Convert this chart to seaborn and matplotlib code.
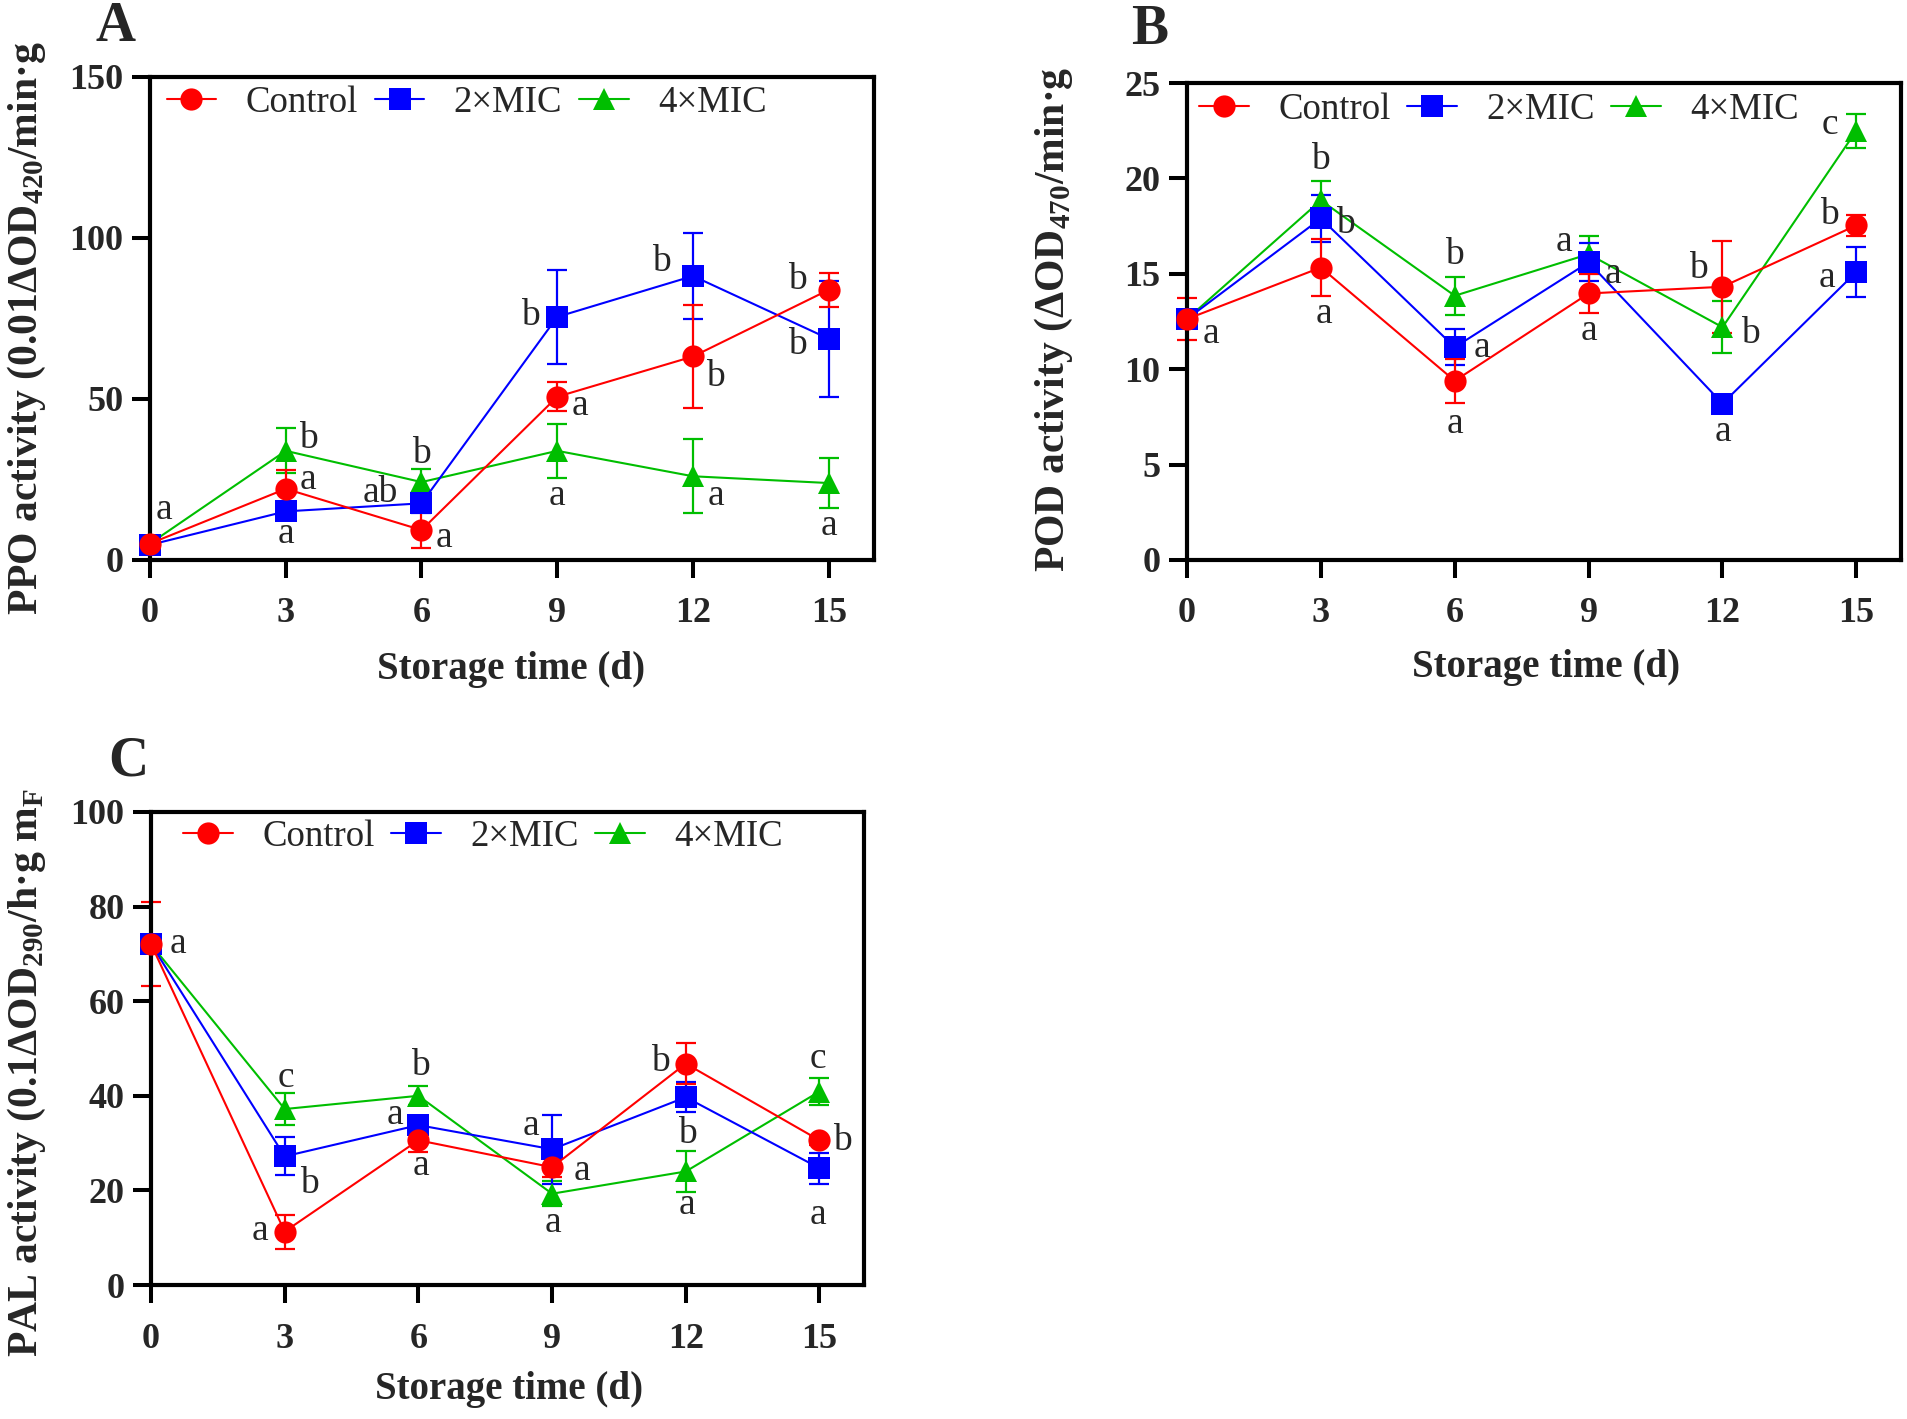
import numpy as np
import pandas as pd
import matplotlib
matplotlib.use("Agg")
import matplotlib.pyplot as plt
import seaborn as sns

# ---- data ----
days = [0, 3, 6, 9, 12, 15]
groups = ["Control", "2×MIC", "4×MIC"]

ppo_control = [5.1, 22.1, 9.3, 50.7, 63.2, 83.9]
ppo_control_sd = [1.0, 6.0, 5.6, 4.5, 16.0, 5.3]
ppo_2mic = [4.7, 15.1, 17.6, 75.5, 88.2, 68.7]
ppo_2mic_sd = [1.0, 2.0, 3.0, 14.7, 13.4, 18.0]
ppo_4mic = [5.1, 33.9, 24.2, 33.9, 26.0, 23.9]
ppo_4mic_sd = [1.0, 7.0, 4.0, 8.4, 11.5, 7.8]

pod_control = [12.63, 15.33, 9.39, 13.97, 14.32, 17.54]
pod_control_sd = [1.1, 1.5, 1.15, 1.0, 2.4, 0.55]
pod_2mic = [12.63, 17.9, 11.15, 15.6, 8.2, 15.1]
pod_2mic_sd = [0.3, 1.25, 0.95, 1.0, 0.3, 1.3]
pod_4mic = [12.63, 18.85, 13.85, 16.03, 12.2, 22.5]
pod_4mic_sd = [0.3, 1.0, 1.0, 0.95, 1.35, 0.9]

pal_control = [72.1, 11.3, 30.6, 24.9, 46.8, 30.6]
pal_control_sd = [8.8, 3.6, 2.5, 2.0, 4.3, 1.0]
pal_2mic = [72.1, 27.2, 33.8, 28.7, 39.7, 24.7]
pal_2mic_sd = [2.0, 4.0, 1.5, 7.3, 3.2, 3.3]
pal_4mic = [72.0, 37.2, 40.0, 19.3, 24.0, 40.9]
pal_4mic_sd = [1.0, 3.3, 2.0, 2.7, 4.4, 2.9]

# significance letters (day position, y position, letter)
ppo_letters = [(0.3, 15.5, "a"),
               (3.5, 37.8, "b"), (3.5, 25, "a"), (3.0, 8, "a"),
               (6.0, 33, "b"), (5.1, 21, "ab"), (6.5, 7, "a"),
               (8.4, 76, "b"), (9.5, 48, "a"), (9.0, 20, "a"),
               (11.3, 92.6, "b"), (12.5, 57, "b"), (12.5, 20, "a"),
               (14.3, 87, "b"), (14.3, 67, "b"), (15.0, 10.7, "a")]
pod_letters = [(0.54, 11.85, "a"),
               (3.0, 21.0, "b"), (3.56, 17.6, "b"), (3.06, 12.9, "a"),
               (6.0, 16.0, "b"), (6.6, 11.15, "a"), (6.0, 7.16, "a"),
               (8.45, 16.7, "a"), (9.55, 15.0, "a"), (9.0, 12.0, "a"),
               (11.46, 15.26, "b"), (12.63, 11.85, "b"), (12.0, 6.7, "a"),
               (14.4, 22.8, "c"), (14.4, 18.1, "b"), (14.35, 14.8, "a")]
pal_letters = [(0.6, 72.1, "a"),
               (3.03, 43.9, "c"), (3.55, 21.4, "b"), (2.45, 11.5, "a"),
               (6.04, 46.3, "b"), (5.48, 36, "a"), (6.06, 25.2, "a"),
               (8.52, 33.6, "a"), (9.68, 24.2, "a"), (9.03, 13.1, "a"),
               (11.42, 47.2, "b"), (12.03, 31.9, "b"), (12.03, 16.9, "a"),
               (14.97, 47.9, "c"), (15.52, 30.6, "b"), (14.97, 14.8, "a")]

colors = {"Control": "#FF0000", "2×MIC": "#0000FF", "4×MIC": "#00BE00"}
markers = {"Control": "o", "2×MIC": "s", "4×MIC": "^"}


def long_table(vals, sds):
    rows = []
    for g, v, s in zip(groups, vals, sds):
        for d, y, e in zip(days, v, s):
            rows.append({"day": d, "value": y, "sd": e, "group": g})
    return pd.DataFrame(rows)


sns.set_theme(style="ticks")
plt.rcParams["font.family"] = ["Liberation Serif", "DejaVu Serif"]
plt.rcParams["mathtext.fontset"] = "custom"
plt.rcParams["mathtext.rm"] = "Liberation Serif"
plt.rcParams["mathtext.bf"] = "Liberation Serif:bold"

fig = plt.figure(figsize=(19.08, 14.19), dpi=100)
W, H = 1908, 1419


def px_axes(l, t, r, b):
    return fig.add_axes([l / W, 1 - b / H, (r - l) / W, (b - t) / H])


def draw_panel(ax, df, ymax, ystep, letters, leg_xy):
    order = groups[::-1]  # red drawn last, on top
    for g in order:
        sub = df[df["group"] == g]
        ax.errorbar(sub["day"], sub["value"], yerr=sub["sd"], fmt="none",
                    ecolor=colors[g], elinewidth=1.6, capsize=7, capthick=1.6,
                    clip_on=False, zorder=2)
    sns.lineplot(data=df, x="day", y="value", hue="group", style="group",
                 hue_order=order, style_order=order, palette=colors,
                 markers=markers, dashes=False, markersize=16,
                 markeredgewidth=0, linewidth=1.5, clip_on=False,
                 ax=ax, zorder=3)
    ax.set_xlim(0, 16)
    ax.set_ylim(0, ymax)
    ax.set_xticks(days)
    ax.set_yticks(np.arange(0, ymax + 1, ystep))
    ax.set_xlabel("")
    ax.set_ylabel("")
    for sp in ax.spines.values():
        sp.set_linewidth(3)
        sp.set_color("black")
        sp.set_visible(True)
    ax.tick_params(axis="both", length=13, width=2.9, color="black",
                   labelsize=26)
    ax.tick_params(axis="x", pad=14)
    ax.tick_params(axis="y", pad=6)
    for lab in ax.get_xticklabels() + ax.get_yticklabels():
        lab.set_fontweight("bold")
    for x, y, s in letters:
        ax.text(x, y, s, ha="center", va="center", fontsize=27)
    handles, labels = ax.get_legend_handles_labels()
    handles, labels = handles[::-1], labels[::-1]
    ax.legend(handles, labels, loc="center left", bbox_to_anchor=leg_xy,
              ncol=3, frameon=False, fontsize=26.5, borderpad=0,
              borderaxespad=0, handlelength=1.35, handletextpad=0.8,
              columnspacing=0.45)


axA = px_axes(150, 77, 874, 560)
draw_panel(axA, long_table([ppo_control, ppo_2mic, ppo_4mic],
                           [ppo_control_sd, ppo_2mic_sd, ppo_4mic_sd]),
           150, 50, ppo_letters, (0.023, 0.946))

axB = px_axes(1187, 83, 1901, 560)
draw_panel(axB, long_table([pod_control, pod_2mic, pod_4mic],
                           [pod_control_sd, pod_2mic_sd, pod_4mic_sd]),
           25, 5, pod_letters, (0.017, 0.944))

axC = px_axes(151, 812, 864, 1285)
draw_panel(axC, long_table([pal_control, pal_2mic, pal_4mic],
                           [pal_control_sd, pal_2mic_sd, pal_4mic_sd]),
           100, 20, pal_letters, (0.045, 0.948))

# axis titles
xlab_kw = dict(fontsize=28, fontweight="bold")
ylab_kw = dict(fontsize=30, fontweight="bold")
fig.text(511 / W, 1 - 669 / H, "Storage time (d)", ha="center", va="center", **xlab_kw)
fig.text(1546 / W, 1 - 667 / H, "Storage time (d)", ha="center", va="center", **xlab_kw)
fig.text(509 / W, 1 - 1390 / H, "Storage time (d)", ha="center", va="center", **xlab_kw)

fig.text(27 / W, 1 - 615 / H, r"PPO activity (0.01ΔOD$_{\mathbf{420}}$/min·g",
         rotation=90, ha="center", va="bottom", **ylab_kw)
fig.text(1054 / W, 1 - 572 / H, r"POD activity (ΔOD$_{\mathbf{470}}$/min·g",
         rotation=90, ha="center", va="bottom", **ylab_kw)
fig.text(27 / W, 1 - 1357 / H, r"PAL activity (0.1ΔOD$_{\mathbf{290}}$/h·g m$_{\mathbf{F}}$",
         rotation=90, ha="center", va="bottom", **ylab_kw)

# panel letters
fig.text(116 / W, 1 - 27 / H, "A", ha="center", va="center", fontsize=40, fontweight="bold")
fig.text(1150 / W, 1 - 30 / H, "B", ha="center", va="center", fontsize=40, fontweight="bold")
fig.text(128 / W, 1 - 761 / H, "C", ha="center", va="center", fontsize=40, fontweight="bold")

fig.savefig("out.png", dpi=100)
